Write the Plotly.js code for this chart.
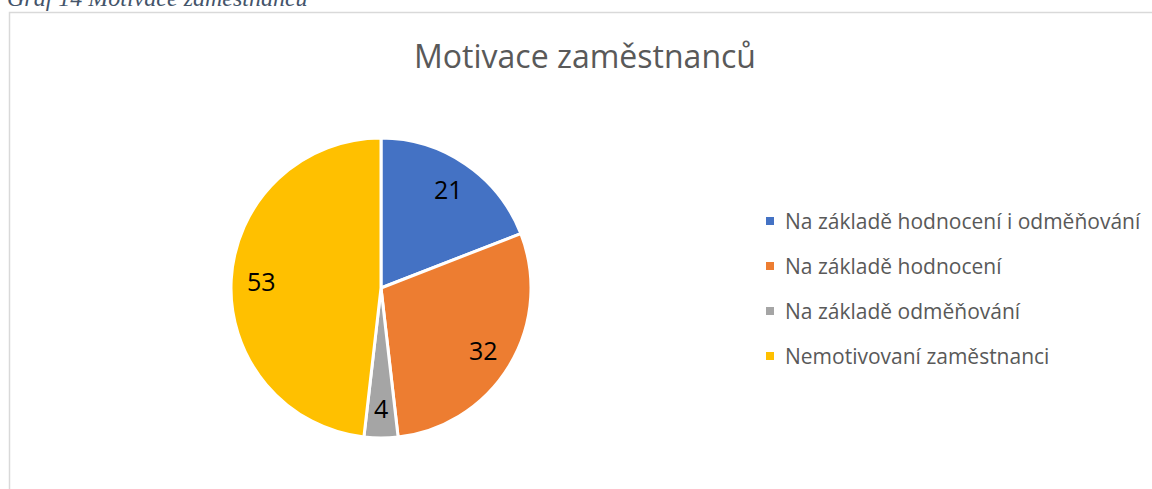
<!DOCTYPE html>
<html>
<head>
<meta charset="utf-8">
<script src="https://cdn.plot.ly/plotly-3.0.1.min.js"></script>
<style>html,body{margin:0;padding:0;background:#fff;}#chart{width:1152px;height:489px;}</style>
</head>
<body>
<div id="chart"></div>
<script>
const categories = ["Na základě hodnocení i odměňování", "Na základě hodnocení", "Na základě odměňování", "Nemotivovaní zaměstnanci"];
const values = [21, 32, 4, 53];
const colors = ["#4472C4", "#ED7D31", "#A5A5A5", "#FFC000"];
const chartTitle = "Motivace zaměstnanců";
const caption = "Graf 14 Motivace zaměstnanců";

const W = 1152, H = 489;
const cx = 381, cy = 288, R = 150;
const px = x => x / W;
const py = y => 1 - y / H;

const total = values.reduce((a, b) => a + b, 0);
const annotations = [];
const shapes = [];

// data labels at slice mid-angles
let cum = 0;
values.forEach((v, i) => {
  const mid = (cum + v / 2) / total * 2 * Math.PI;
  cum += v;
  const r = R * 0.8;
  annotations.push({
    x: px(cx + r * Math.sin(mid)), y: py(cy - r * Math.cos(mid)),
    xref: 'paper', yref: 'paper', text: String(v), showarrow: false,
    xanchor: 'center', yanchor: 'middle',
    font: {family: 'Open Sans, sans-serif', size: 25, color: '#000000'}
  });
});

// legend
const legX = 770, legY0 = 221, legStep = 45;
categories.forEach((c, i) => {
  const y = legY0 + i * legStep;
  shapes.push({type: 'rect', xref: 'paper', yref: 'paper',
    x0: px(legX - 4), x1: px(legX + 4), y0: py(y + 4), y1: py(y - 4),
    fillcolor: colors[i], line: {width: 0}});
  annotations.push({x: px(legX + 13), y: py(y), xref: 'paper', yref: 'paper',
    text: c, showarrow: false, xanchor: 'left', yanchor: 'middle',
    font: {family: 'Open Sans, sans-serif', size: 21, color: '#595959'}});
});

// caption above frame
annotations.push({x: px(5), y: py(-2), xref: 'paper', yref: 'paper', text: '<i>' + caption + '</i>',
  showarrow: false, xanchor: 'left', yanchor: 'middle',
  font: {family: 'Liberation Serif, serif', size: 24, color: '#44546A'}});

// frame
shapes.push({type: 'rect', xref: 'paper', yref: 'paper', x0: px(9.5), x1: px(1160), y0: py(500), y1: py(12.5),
  line: {color: '#D9D9D9', width: 1.5}, fillcolor: 'rgba(0,0,0,0)'});

const trace = {
  type: 'pie', labels: categories, values: values, sort: false, direction: 'clockwise', rotation: 0,
  marker: {colors: colors, line: {color: '#FFFFFF', width: 3}},
  textinfo: 'none', hoverinfo: 'label+value', showlegend: false,
  domain: {x: [px(cx - R), px(cx + R)], y: [py(cy + R), py(cy - R)]}
};

const layout = {
  width: W, height: H, margin: {l: 0, r: 0, t: 0, b: 0},
  paper_bgcolor: '#FFFFFF', showlegend: false,
  title: {text: chartTitle, x: px(585), xanchor: 'center', y: py(57), yanchor: 'middle', yref: 'paper',
    font: {family: 'Open Sans, sans-serif', size: 32, color: '#595959'}},
  annotations: annotations, shapes: shapes
};

Plotly.newPlot('chart', [trace], layout, {displayModeBar: false, staticPlot: true});
</script>
</body>
</html>
